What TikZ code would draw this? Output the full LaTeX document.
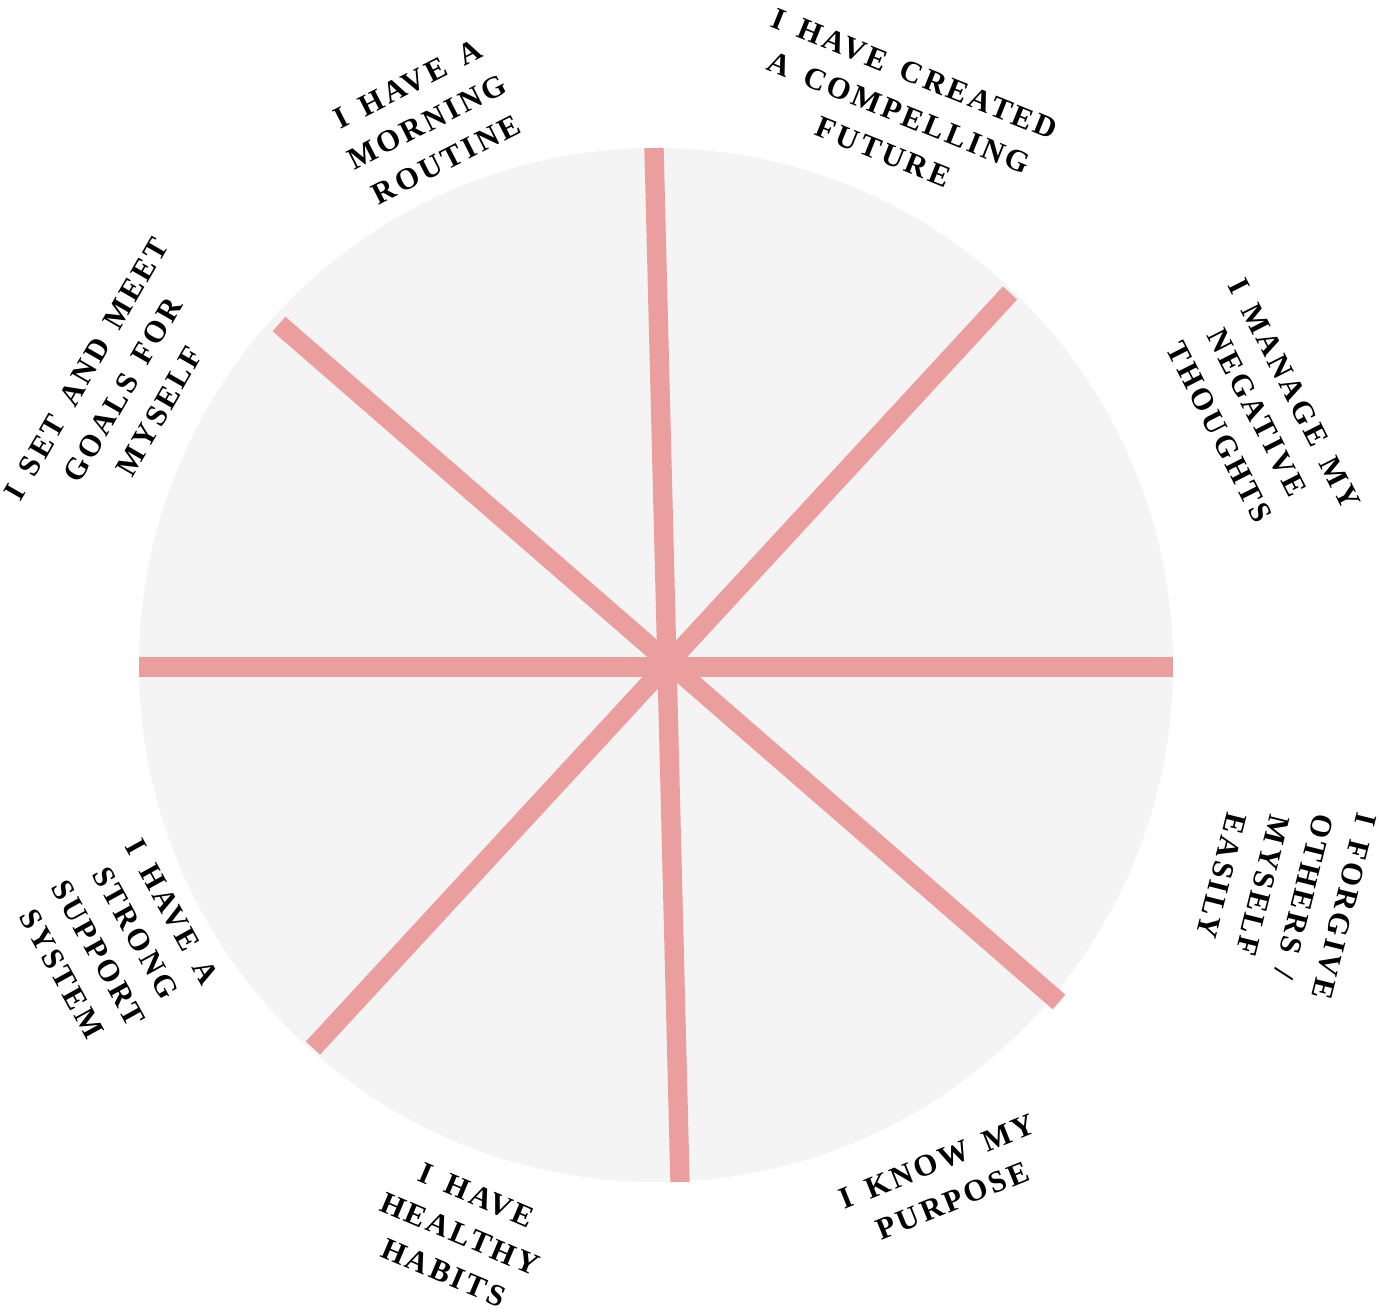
\documentclass[tikz,border=0pt]{standalone}
\usepackage{fontspec}
\newfontfamily\lblfont[LetterSpace=10,WordSpace=1.5]{Liberation Serif}
\definecolor{wheelpink}{HTML}{EB9E9E}
\definecolor{wheelgrey}{HTML}{F4F4F4}
\tikzset{
  disc/.style={fill=wheelgrey},
  spoke/.style={draw=wheelpink,line width=11pt,line cap=butt},
  lbl/.style={align=center,inner sep=0pt,text=black,
              font=\lblfont\bfseries\fontsize{17.5}{24}\selectfont},
}
\begin{document}
\begin{tikzpicture}[x=0.02cm,y=-0.02cm]
  \useasboundingbox (0,0) rectangle (1379,1312);
  \fill[disc] (656,665) circle[radius=517];

  % spoke ends on the rim
  \coordinate (n) at (654,148);
  \coordinate (s) at (680,1182);
  \coordinate (nw) at (279,324);
  \coordinate (se) at (1059,1002);
  \coordinate (ne) at (1010,293);
  \coordinate (sw) at (313,1048);
  \coordinate (w) at (139,667);
  \coordinate (e) at (1173,667);

  \draw[spoke] (n) -- (s);
  \draw[spoke] (nw) -- (se);
  \draw[spoke] (ne) -- (sw);
  \draw[spoke] (w) -- (e);

  % labels round the wheel
  \node[lbl,rotate=27] (morning) at (427,122) {I HAVE A\\MORNING\\ROUTINE};
  \node[lbl,rotate=-22] (future) at (899,113) {I HAVE CREATED\\A COMPELLING\\FUTURE};
  \node[lbl,rotate=-63] (thoughts) at (1257,413) {I MANAGE MY\\NEGATIVE\\THOUGHTS};
  \node[lbl,rotate=-104] (forgive) at (1283,891) {I FORGIVE\\OTHERS /\\MYSELF\\EASILY};
  \node[lbl,rotate=22] (purpose) at (945,1181) {I KNOW MY\\PURPOSE};
  \node[lbl,rotate=-23] (habits) at (460,1234) {I HAVE\\HEALTHY\\HABITS};
  \node[lbl,rotate=-61] (support) at (117,943) {I HAVE A\\STRONG\\SUPPORT\\SYSTEM};
  \node[lbl,rotate=60] (goals) at (123,390) {I SET AND MEET\\GOALS FOR\\MYSELF};
\end{tikzpicture}
\end{document}
